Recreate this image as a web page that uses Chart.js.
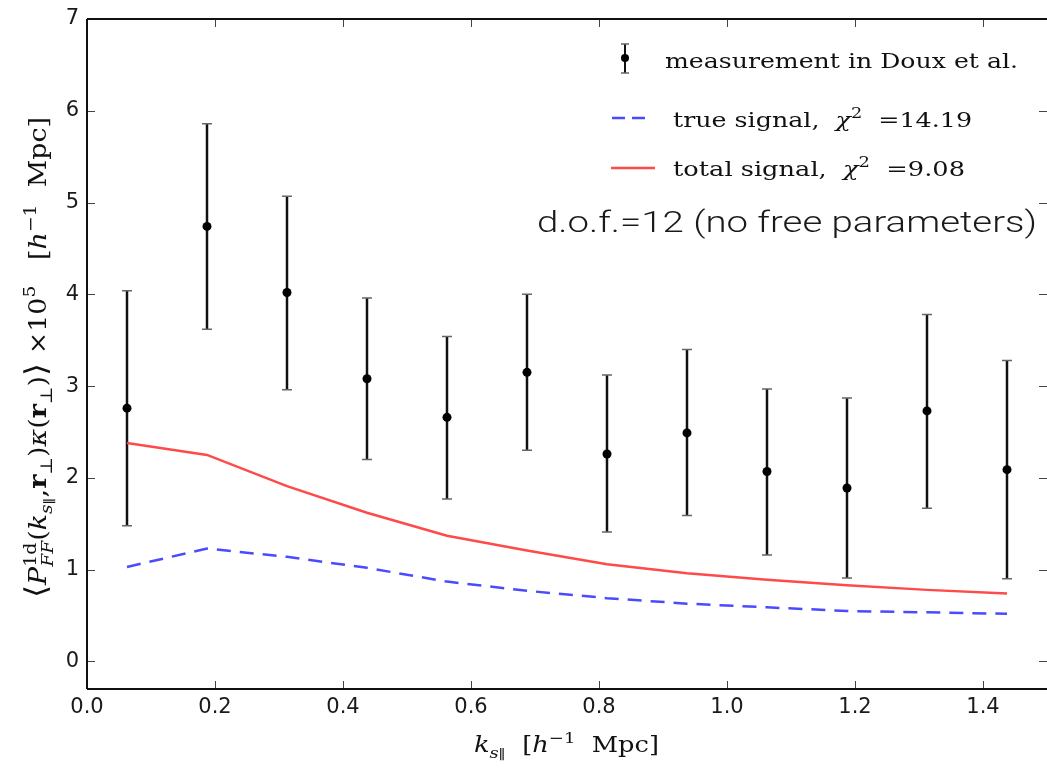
<!DOCTYPE html>
<html><head><meta charset="utf-8">
<script src="https://cdn.jsdelivr.net/npm/chart.js@4.4.1/dist/chart.umd.min.js"></script>
<style>html,body{margin:0;padding:0;background:#fff;}canvas{display:block;}</style>
</head><body>
<canvas id="c" width="1047" height="770"></canvas>
<script>
// ---- data ----
const K_PAR = [0.0625, 0.1875, 0.3125, 0.4375, 0.5625, 0.6875, 0.8125, 0.9375, 1.0625, 1.1875, 1.3125, 1.4375];
const MEASUREMENT = [2.76, 4.74, 4.02, 3.08, 2.66, 3.15, 2.26, 2.49, 2.07, 1.89, 2.73, 2.09];
const ERR_UPPER   = [4.04, 5.86, 5.07, 3.96, 3.54, 4.00, 3.12, 3.40, 2.97, 2.87, 3.78, 3.28];
const ERR_LOWER   = [1.48, 3.62, 2.96, 2.20, 1.77, 2.30, 1.41, 1.59, 1.16, 0.91, 1.67, 0.90];
const TRUE_SIGNAL  = [1.03, 1.23, 1.14, 1.02, 0.87, 0.77, 0.69, 0.63, 0.59, 0.55, 0.535, 0.52];
const TOTAL_SIGNAL = [2.38, 2.25, 1.91, 1.62, 1.37, 1.21, 1.06, 0.96, 0.89, 0.83, 0.78, 0.74];
const X_TICKS = [0.0, 0.2, 0.4, 0.6, 0.8, 1.0, 1.2, 1.4];
const Y_TICKS = [0, 1, 2, 3, 4, 5, 6, 7];
const LEGEND_LABELS = ['measurement in Doux et al.', 'true signal,', '=14.19', 'total signal,', '=9.08'];
const NOTE = 'd.o.f.=12 (no free parameters)';

const SERIF = '"DejaVu Serif", "Liberation Serif", serif';
const SANS = '"DejaVu Sans", sans-serif';
const RED = '#ff4a4a';
const BLUE = '#4a4aff';

function pts(ys){ return K_PAR.map((x,i)=>({x:x, y:ys[i]})); }

// ---- rich text helper ----
function fontFor(r, size){
  return (r.i?'italic ':'') + (r.w ? r.w+' ' : (r.b?'bold ':'')) + (size*(r.s||1)).toFixed(1) + 'px ' + (r.f||SERIF);
}
function measureRun(ctx, r, size){
  if (r.stack){ return Math.max(...r.stack.map(q=>measureRun(ctx,q,size))); }
  ctx.font = fontFor(r,size); return ctx.measureText(r.t).width;
}
function drawRunAt(ctx, r, size, x){
  if (r.stack){ r.stack.forEach(q=>drawRunAt(ctx,q,size,x)); return; }
  ctx.font = fontFor(r,size);
  ctx.fillText(r.t, x, (r.dy||0)*size);
}
function drawRich(ctx, runs, size, x, y, targetW, rotate, color){
  let w = 0; const ws = runs.map(r=>{ const m = measureRun(ctx,r,size); w += m; return m; });
  const sx = targetW ? targetW / w : 1;
  ctx.save();
  ctx.translate(x,y);
  if (rotate) ctx.rotate(-Math.PI/2);
  ctx.scale(sx,1);
  ctx.fillStyle = color || '#111';
  ctx.textAlign = 'left'; ctx.textBaseline = 'alphabetic';
  let cx = 0;
  runs.forEach((r,k)=>{ drawRunAt(ctx,r,size,cx); cx += ws[k]; });
  ctx.restore();
}

const overlay = {
  id: 'overlay',
  beforeDatasetsDraw(chart){
    const ctx = chart.ctx, xs = chart.scales.x, ys = chart.scales.y;
    ctx.save();
    for (let i=0;i<K_PAR.length;i++){
      const px = xs.getPixelForValue(K_PAR[i]);
      const yt = ys.getPixelForValue(ERR_UPPER[i]);
      const yb = ys.getPixelForValue(ERR_LOWER[i]);
      ctx.strokeStyle = '#111'; ctx.lineWidth = 2.5;
      ctx.beginPath(); ctx.moveTo(px, yt); ctx.lineTo(px, yb); ctx.stroke();
      ctx.strokeStyle = '#666'; ctx.lineWidth = 1.5;
      ctx.beginPath();
      ctx.moveTo(px-5, yt); ctx.lineTo(px+5, yt);
      ctx.moveTo(px-5, yb); ctx.lineTo(px+5, yb);
      ctx.stroke();
    }
    ctx.restore();
  },
  afterDraw(chart){
    const ctx = chart.ctx, a = chart.chartArea, xs = chart.scales.x, ys = chart.scales.y;
    ctx.save();
    // inward ticks
    ctx.strokeStyle = '#444'; ctx.lineWidth = 1;
    ctx.beginPath();
    Y_TICKS.forEach(v=>{
      const py = Math.round(ys.getPixelForValue(v))+0.5;
      ctx.moveTo(a.left, py); ctx.lineTo(a.left+8, py);
      ctx.moveTo(a.right, py); ctx.lineTo(a.right-8, py);
    });
    X_TICKS.forEach(v=>{
      const px = Math.round(xs.getPixelForValue(v))+0.5;
      ctx.moveTo(px, a.bottom); ctx.lineTo(px, a.bottom-8);
      ctx.moveTo(px, a.top); ctx.lineTo(px, a.top+8);
    });
    ctx.stroke();
    // spines
    ctx.strokeStyle = '#111'; ctx.lineWidth = 2;
    ctx.beginPath();
    ctx.moveTo(a.left, a.top); ctx.lineTo(a.right, a.top);
    ctx.moveTo(a.left, a.top); ctx.lineTo(a.left, a.bottom);
    ctx.moveTo(a.left, a.bottom); ctx.lineTo(a.right, a.bottom);
    ctx.stroke();

    // x title
    drawRich(ctx, [
      {t:'k', i:1}, {t:'s', i:1, s:0.7, dy:0.25}, {t:'\u2225', s:0.6, dy:0.32},
      {t:'  [', }, {t:'h', i:1}, {t:'\u22121', s:0.7, dy:-0.4}, {t:'  Mpc]'}
    ], 22, 474, 752, 185, false);

    // y title
    drawRich(ctx, [
      {t:'\u27E8', s:1.25}, {t:'P', i:1},
      {stack:[{t:'1d', s:0.7, dy:-0.42}, {t:'FF', i:1, s:0.7, dy:0.3}]},
      {t:'('}, {t:'k', i:1}, {t:'s', i:1, s:0.7, dy:0.25}, {t:'\u2225', s:0.55, dy:0.32},
      {t:','}, {t:'r', b:1}, {t:'\u22A5', s:0.7, dy:0.25}, {t:')'},
      {t:'\u03BA', i:1}, {t:'('}, {t:'r', b:1}, {t:'\u22A5', s:0.7, dy:0.25}, {t:')'},
      {t:'\u27E9', s:1.25}, {t:' \u00D710'}, {t:'5', s:0.7, dy:-0.45},
      {t:'   ['}, {t:'h', i:1}, {t:'\u22121', s:0.7, dy:-0.4}, {t:'  Mpc]'}
    ], 24, 46, 598, 481, true);

    // legend
    ctx.strokeStyle = '#111'; ctx.lineWidth = 2;
    ctx.beginPath(); ctx.moveTo(625, 44); ctx.lineTo(625, 73); ctx.stroke();
    ctx.strokeStyle = '#666'; ctx.lineWidth = 1.5;
    ctx.beginPath(); ctx.moveTo(621,44); ctx.lineTo(629,44); ctx.moveTo(621,73); ctx.lineTo(629,73); ctx.stroke();
    ctx.fillStyle = '#000'; ctx.beginPath(); ctx.arc(625, 58, 4, 0, Math.PI*2); ctx.fill();
    drawRich(ctx, [{t:LEGEND_LABELS[0]}], 21, 665, 68, 353, false);
    ctx.strokeStyle = BLUE; ctx.lineWidth = 2.5;
    ctx.beginPath(); ctx.moveTo(612,118); ctx.lineTo(625,118); ctx.moveTo(632,118); ctx.lineTo(645,118); ctx.stroke();
    drawRich(ctx, [{t:LEGEND_LABELS[1]+'  '}, {t:'\u03C7', i:1}, {t:'2', s:0.7, dy:-0.45}, {t:'  '+LEGEND_LABELS[2]}], 21, 673, 127, 299, false);
    ctx.strokeStyle = RED; ctx.lineWidth = 2.5;
    ctx.beginPath(); ctx.moveTo(611,168); ctx.lineTo(655,168); ctx.stroke();
    drawRich(ctx, [{t:LEGEND_LABELS[3]+'  '}, {t:'\u03C7', i:1}, {t:'2', s:0.7, dy:-0.45}, {t:'  '+LEGEND_LABELS[4]}], 21, 673, 176, 292, false);
    drawRich(ctx, [{t:NOTE, f:'Roboto, "Liberation Sans", sans-serif', w:300}], 29, 537, 232, 500, false, '#1a1a1a');
    ctx.restore();
  }
};

new Chart(document.getElementById('c'), {
  type: 'line',
  data: {
    datasets: [
      { label: 'measurement in Doux et al.', data: pts(MEASUREMENT), showLine: false,
        pointRadius: 4.5, pointBackgroundColor: '#000', pointBorderWidth: 0, borderColor: '#000', order: 0 },
      { label: 'true signal', data: pts(TRUE_SIGNAL), borderColor: BLUE, borderWidth: 2.5,
        borderDash: [14, 9], pointRadius: 0, tension: 0, fill: false, order: 2 },
      { label: 'total signal', data: pts(TOTAL_SIGNAL), borderColor: RED, borderWidth: 2.5,
        pointRadius: 0, tension: 0, fill: false, order: 1 }
    ]
  },
  options: {
    responsive: false, animation: false, devicePixelRatio: 1,
    layout: { autoPadding: false, padding: { top: 19, left: 0, right: 0, bottom: 0 } },
    plugins: { legend: { display: false }, tooltip: { enabled: false } },
    scales: {
      x: {
        type: 'linear', min: 0, max: 1.5,
        afterBuildTicks: s => { s.ticks = X_TICKS.map(v=>({value:v})); },
        afterFit: s => { s.height = 81; s.paddingLeft = 0; s.paddingRight = 0; },
        grid: { display: false, drawTicks: false }, border: { display: false },
        ticks: { font: { family: SANS, size: 21 }, color: '#1a1a1a', padding: 6,
                 maxRotation: 0, autoSkip: false, callback: v => Number(v).toFixed(1) }
      },
      y: {
        type: 'linear', min: -0.3, max: 7,
        afterBuildTicks: s => { s.ticks = Y_TICKS.map(v=>({value:v})); },
        afterFit: s => { s.width = 87; s.paddingTop = 0; s.paddingBottom = 0; },
        grid: { display: false, drawTicks: false }, border: { display: false },
        ticks: { font: { family: SANS, size: 21 }, color: '#1a1a1a', padding: 8,
                 callback: v => String(v) }
      }
    }
  },
  plugins: [overlay]
});
</script>
</body></html>
